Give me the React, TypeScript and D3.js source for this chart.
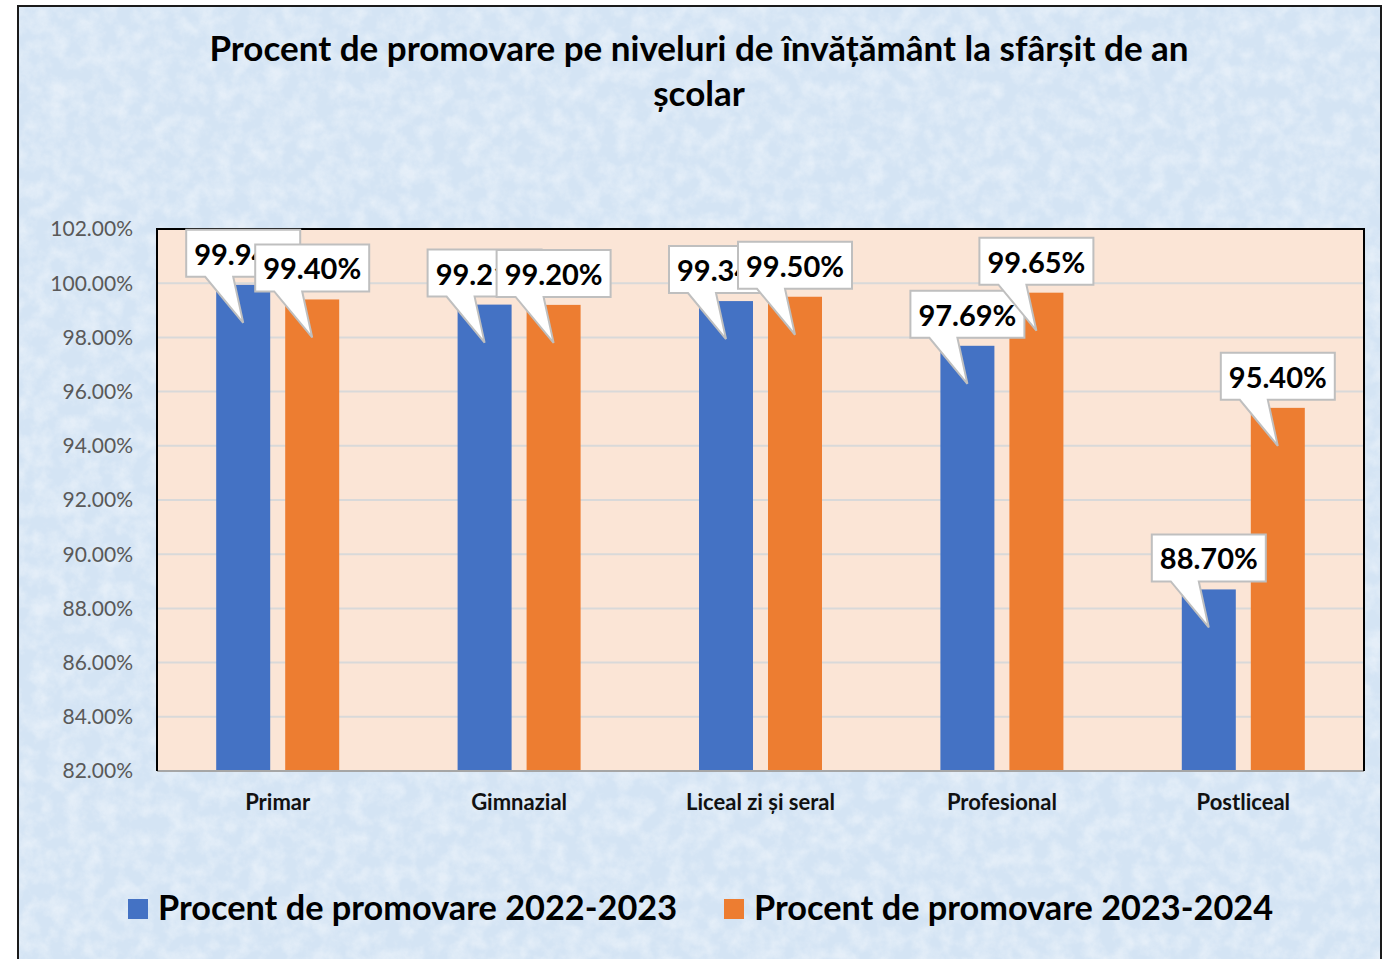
import React from 'react';
import * as d3 from 'd3';

const categories = ['Primar', 'Gimnazial', 'Liceal zi și seral', 'Profesional', 'Postliceal'];
const series2223 = [99.94, 99.21, 99.34, 97.69, 88.7];
const series2324 = [99.4, 99.2, 99.5, 99.65, 95.4];
const seriesNames = ['Procent de promovare 2022-2023', 'Procent de promovare 2023-2024'];
const seriesColors = ['#4472c4', '#ed7d31'];
const yTicks = [82, 84, 86, 88, 90, 92, 94, 96, 98, 100, 102];

const FONT = 'Lato, "Open Sans", sans-serif';

export default function App() {
  const width = 1388,
    height = 959;
  const plotLeft = 157,
    plotRight = 1364,
    plotTop = 229,
    plotBottom = 771;

  const x = d3.scaleBand().domain(categories).range([plotLeft, plotRight]);
  const y = d3.scaleLinear().domain([82, 102]).range([plotBottom, plotTop]);

  const barW = 54,
    gap = 15;
  const allSeries = [series2223, series2324];

  const barCenter = (i: number, s: number) =>
    x(categories[i])! + x.bandwidth() / 2 + (s === 0 ? -(barW + gap) / 2 : (barW + gap) / 2);

  // callout with a wedge pointing into the bar top
  const callout = (cx: number, top: number) => {
    const w = 114,
      h = 47;
    const bottom = top - 8;
    const l = cx - w / 2,
      r = cx + w / 2,
      t = bottom - h;
    return {
      d: `M${l},${t}H${r}V${bottom}H${cx - 10}L${cx},${top + 38}L${cx - 38},${bottom}H${l}Z`,
      tx: cx,
      ty: t + 35,
    };
  };

  return (
    <svg width={width} height={height} style={{ position: 'absolute', left: 0, top: 0 }}>
      <defs>
        <filter id="paper" x="0" y="0" width="100%" height="100%">
          <feTurbulence type="fractalNoise" baseFrequency="0.06" numOctaves="4" seed="3" result="n" />
          <feColorMatrix
            in="n"
            type="matrix"
            values="0 0 0 0 1  0 0 0 0 1  0 0 0 0 1  0 0 0 -2 1.3"
          />
        </filter>
      </defs>
      <rect x={0} y={0} width={width} height={height} fill="#ffffff" />
      <rect x={18} y={6} width={1363} height={970} fill="#d4e4f4" />
      <rect x={18} y={6} width={1363} height={970} filter="url(#paper)" opacity={0.4} />
      <rect x={18} y={6} width={1363} height={970} fill="none" stroke="#1a1a1a" strokeWidth={2} />

      <text x={699} y={61} textAnchor="middle" fontFamily={FONT} fontWeight={700} fontSize={35}>
        Procent de promovare pe niveluri de învățământ la sfârșit de an
      </text>
      <text x={699} y={106} textAnchor="middle" fontFamily={FONT} fontWeight={700} fontSize={35}>
        școlar
      </text>

      <rect x={plotLeft} y={plotTop} width={plotRight - plotLeft} height={plotBottom - plotTop} fill="#fbe5d6" />
      {yTicks.map((t) => (
        <g key={t}>
          {t > 82 && t < 102 && (
            <line x1={plotLeft} x2={plotRight} y1={y(t)} y2={y(t)} stroke="#d9d9d9" strokeWidth={2} />
          )}
          <text
            x={133}
            y={y(t)}
            dy="0.35em"
            textAnchor="end"
            fontFamily={FONT}
            fontSize={21}
            fill="#595959"
          >
            {t.toFixed(2)}%
          </text>
        </g>
      ))}

      {allSeries.map((vals, s) =>
        vals.map((v, i) => (
          <rect
            key={`${s}-${i}`}
            x={barCenter(i, s) - barW / 2}
            y={y(v)}
            width={barW}
            height={plotBottom - y(v)}
            fill={seriesColors[s]}
          />
        ))
      )}

      <line x1={plotLeft} x2={plotRight} y1={plotBottom} y2={plotBottom} stroke="#a6a6a6" strokeWidth={2} />
      <path
        d={`M${plotLeft},${plotBottom}V${plotTop}H${plotRight}V${plotBottom}`}
        fill="none"
        stroke="#000"
        strokeWidth={2}
      />

      {allSeries.map((vals, s) =>
        vals.map((v, i) => {
          const c = callout(barCenter(i, s), y(v));
          return (
            <g key={`c${s}-${i}`}>
              <path d={c.d} fill="#ffffff" stroke="#bfbfbf" strokeWidth={2} />
              <text x={c.tx} y={c.ty} textAnchor="middle" fontFamily={FONT} fontWeight={700} fontSize={29}>
                {v.toFixed(2)}%
              </text>
            </g>
          );
        })
      )}

      {categories.map((c) => (
        <text
          key={c}
          x={x(c)! + x.bandwidth() / 2}
          y={810}
          textAnchor="middle"
          fontFamily={FONT}
          fontWeight={700}
          fontSize={22}
          fill="#111"
        >
          {c}
        </text>
      ))}

      {seriesNames.map((n, s) => {
        const lx = s === 0 ? 128 : 724;
        return (
          <g key={n}>
            <rect x={lx} y={899} width={20} height={20} fill={seriesColors[s]} />
            <text x={lx + 30} y={920} fontFamily={FONT} fontWeight={700} fontSize={34.3}>
              {n}
            </text>
          </g>
        );
      })}
    </svg>
  );
}
